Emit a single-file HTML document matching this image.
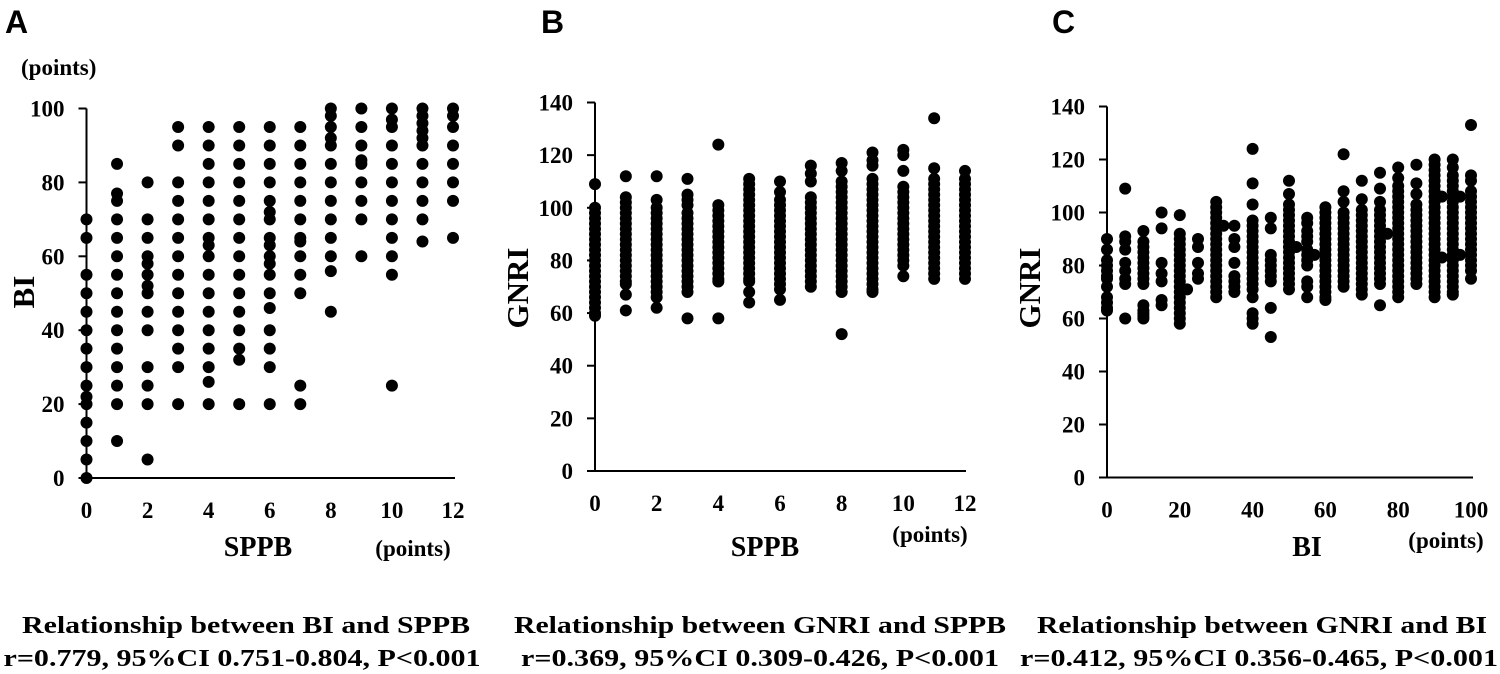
<!DOCTYPE html>
<html><head><meta charset="utf-8"><style>
html,body{margin:0;padding:0;background:#fff}
svg{display:block}
.t{font-family:"Liberation Serif",serif;font-weight:bold;fill:#000}
.s{font-family:"Liberation Sans",sans-serif;font-weight:bold;fill:#000}
</style></head><body>
<svg id="fig" width="1500" height="674" viewBox="0 0 1500 674" xmlns="http://www.w3.org/2000/svg">
<text class="s" x="5" y="33" font-size="32">A</text>
<text class="s" x="541" y="33" font-size="32">B</text>
<text class="s" x="1052" y="33" font-size="32">C</text>
<text class="t" x="21" y="75" font-size="23">(points)</text>
<text class="t" x="34" y="292" font-size="31" transform="rotate(-90 34 292)" text-anchor="middle">BI</text>
<text class="t" x="528" y="288" font-size="31" transform="rotate(-90 528 288)" text-anchor="middle">GNRI</text>
<text class="t" x="1040" y="288" font-size="31" transform="rotate(-90 1040 288)" text-anchor="middle">GNRI</text>
<text class="t" x="258" y="556" font-size="28" text-anchor="middle">SPPB</text>
<text class="t" x="413" y="556" font-size="23" text-anchor="middle">(points)</text>
<text class="t" x="765" y="556" font-size="28" text-anchor="middle">SPPB</text>
<text class="t" x="930" y="542" font-size="23" text-anchor="middle">(points)</text>
<text class="t" x="1307" y="556" font-size="28" text-anchor="middle">BI</text>
<text class="t" x="1446" y="548" font-size="23" text-anchor="middle">(points)</text>
<text class="t" x="246" y="633" font-size="24" text-anchor="middle" textLength="448" lengthAdjust="spacingAndGlyphs">Relationship between BI and SPPB</text>
<text class="t" x="242" y="666" font-size="24" text-anchor="middle" textLength="477" lengthAdjust="spacingAndGlyphs">r=0.779, 95%CI 0.751-0.804, P&lt;0.001</text>
<text class="t" x="760" y="633" font-size="24" text-anchor="middle" textLength="492" lengthAdjust="spacingAndGlyphs">Relationship between GNRI and SPPB</text>
<text class="t" x="760" y="666" font-size="24" text-anchor="middle" textLength="478" lengthAdjust="spacingAndGlyphs">r=0.369, 95%CI 0.309-0.426, P&lt;0.001</text>
<text class="t" x="1262" y="633" font-size="24" text-anchor="middle" textLength="450" lengthAdjust="spacingAndGlyphs">Relationship between GNRI and BI</text>
<text class="t" x="1259" y="666" font-size="24" text-anchor="middle" textLength="478" lengthAdjust="spacingAndGlyphs">r=0.412, 95%CI 0.356-0.465, P&lt;0.001</text>
</svg>
<script>
const aX=[0,1,2,3,4,5,6,7,8,9,10,11,12];
const aY=[
[70,65,55,50,45,40,35,30,25,22,20,15,10,5,0],
[85,77,75,70,65,60,55,50,45,40,35,30,25,20,10],
[80,70,65,60,58,55,52,50,45,40,30,25,20,5],
[95,90,80,75,70,65,60,55,50,45,40,35,30,20],
[95,90,85,80,75,70,65,63,60,55,50,45,40,35,30,26,20],
[95,90,85,80,75,70,65,60,55,50,45,40,35,32,20],
[95,90,85,80,75,72,70,65,63,60,58,55,50,46,40,35,30,20],
[95,90,85,80,75,70,65,64,60,55,50,25,20],
[100,98,95,92,90,85,80,75,70,65,60,56,45],
[100,95,90,86,85,80,75,70,60],
[100,97,95,90,85,80,75,70,65,60,55,25],
[100,98,96,94,92,90,85,80,75,70,64],
[100,98,95,90,85,80,75,65]];
const bX=[0,1,2,3,4,5,6,7,8,9,10,11,12];
const bY=[
[109,100,98,96,94,92,90,88,86,84,82,80,78,76,74,72,70,68,66,64,62,60,59],
[112,104,102,100,98,96,94,92,90,88,86,84,82,80,78,76,74,72,71,67,61],
[112,103,100,98,96,94,92,90,88,86,84,82,80,78,76,74,72,70,68,66,62],
[111,105,103,101,98,96,94,92,90,88,86,84,82,80,78,76,74,72,70,68,58],
[124,101,99,97,95,93,91,89,87,85,83,81,79,77,75,73,72,58],
[111,109,107,105,103,101,99,97,95,93,91,89,87,85,83,81,79,77,75,73,72,68,64],
[110,106,103,101,99,97,95,93,91,89,87,85,83,81,79,77,75,73,71,69,65],
[116,113,110,104,102,100,98,96,94,92,90,88,86,84,82,80,78,76,74,72,70],
[117,114,110,108,106,104,102,100,98,96,94,92,90,88,86,84,82,80,78,76,74,72,70,68,52],
[121,118,116,111,109,107,105,103,101,99,97,95,93,91,89,87,85,83,81,79,77,75,73,71,69,68],
[122,120,114,108,106,104,102,100,98,96,94,92,90,88,86,84,82,80,78,74],
[134,115,111,109,107,105,103,101,99,97,95,93,91,89,87,85,83,81,79,77,75,73],
[114,111,109,107,105,103,101,99,97,95,93,91,89,87,85,83,81,79,77,75,73]];
const cX=[0,5,10,15,20,22,25,30,32,35,40,45,50,52,55,57,60,65,70,75,77,80,85,90,92,95,97,100];
const cY=[
[90,86,82,80,78,76,75,72,68,66,64,63],
[109,91,89,86,81,78,75,73,60],
[93,89,87,85,83,81,79,77,75,73,65,63,62,61,60],
[100,94,81,77,74,67,65],
[99,92,90,88,86,84,82,80,78,76,74,72,70,68,66,64,62,60,58],
[71],
[90,87,81,77,75],
[104,102,100,98,96,94,92,90,88,86,84,82,80,78,76,74,72,70,68],
[95],
[95,90,87,81,76,74,72,70],
[124,111,103,97,95,93,91,89,87,85,83,81,79,77,75,73,71,68,62,60,58],
[98,94,84,82,80,78,76,74,64,53],
[112,107,103,101,99,97,95,93,91,89,87,85,83,81,79,77,75,73,71],
[87],
[98,96,93,91,89,86,84,82,80,74,72,68],
[84],
[102,100,98,96,94,92,90,88,86,84,82,80,78,76,74,72,70,68,67],
[122,108,104,100,98,96,94,92,90,88,86,84,82,80,78,76,74,72],
[112,105,101,99,97,95,93,91,89,87,85,83,81,79,77,75,73,71,69],
[115,109,104,101,99,97,95,93,91,89,87,85,83,81,79,77,75,73,65],
[92],
[117,113,110,108,106,104,102,100,98,96,94,92,90,88,86,84,82,80,78,76,74,72,70,68],
[118,111,107,103,101,99,97,95,93,91,89,87,85,83,81,79,77,75,73],
[120,118,116,114,112,110,108,106,104,102,100,98,96,94,92,90,88,86,84,82,80,78,76,74,72,70,68],
[106,83],
[120,117,114,112,110,108,106,104,102,100,98,96,94,92,90,88,86,84,82,80,78,76,74,72,70,69],
[106,84],
[133,114,112,108,106,104,102,100,98,96,94,92,90,88,86,84,82,80,78,75]];
const aTicksY=[0,20,40,60,80,100], aTicksX=[0,2,4,6,8,10,12];
const bTicksY=[0,20,40,60,80,100,120,140], bTicksX=[0,2,4,6,8,10,12];
const cTicksY=[0,20,40,60,80,100,120,140], cTicksX=[0,20,40,60,80,100];
const NS="http://www.w3.org/2000/svg";
const svg=document.getElementById('fig');
function el(t,a){const e=document.createElementNS(NS,t);for(const k in a)e.setAttribute(k,a[k]);svg.appendChild(e);return e;}
function panel(id,xs,ys,tx,ty,xmax,ymax,x0,x1,y0,y1,axL,axR){
  const sx=v=>x0+(x1-x0)*v/xmax, sy=v=>y0-(y0-y1)*v/ymax;
  let e=el('line',{x1:x0,y1:y1,x2:x0,y2:y0,stroke:'#000','stroke-width':2});
  
  
  e=el('line',{x1:axL,y1:y0,x2:axR,y2:y0,stroke:'#000','stroke-width':2});
  
  
  ty.forEach(v=>{
    const l=el('line',{x1:x0-8,y1:sy(v),x2:x0,y2:sy(v),stroke:'#000','stroke-width':2});
    
    
    const t=el('text',{x:x0-22,y:sy(v)+8,'font-size':23,'text-anchor':'end',class:'t'});
    t.textContent=v;
    
    
  });
  tx.forEach(v=>{
    const t=el('text',{x:sx(v),y:y0+40,'font-size':23,'text-anchor':'middle',class:'t'});
    t.textContent=v;
    
    
  });
  xs.forEach((xv,i)=>ys[i].forEach(yv=>{
    const c=el('circle',{cx:sx(xv),cy:sy(yv),r:6,fill:'#000'});
    
    
  }));
}
panel('panel-a',aX,aY,aTicksX,aTicksY,12,100,86.5,453,478,108.5,80,455);
panel('panel-b',bX,bY,bTicksX,bTicksY,12,140,595,965,471,102.5,587,966);
panel('panel-c',cX,cY,cTicksX,cTicksY,100,140,1107,1471,477.5,106.5,1099,1473);
</script>
</body></html>
